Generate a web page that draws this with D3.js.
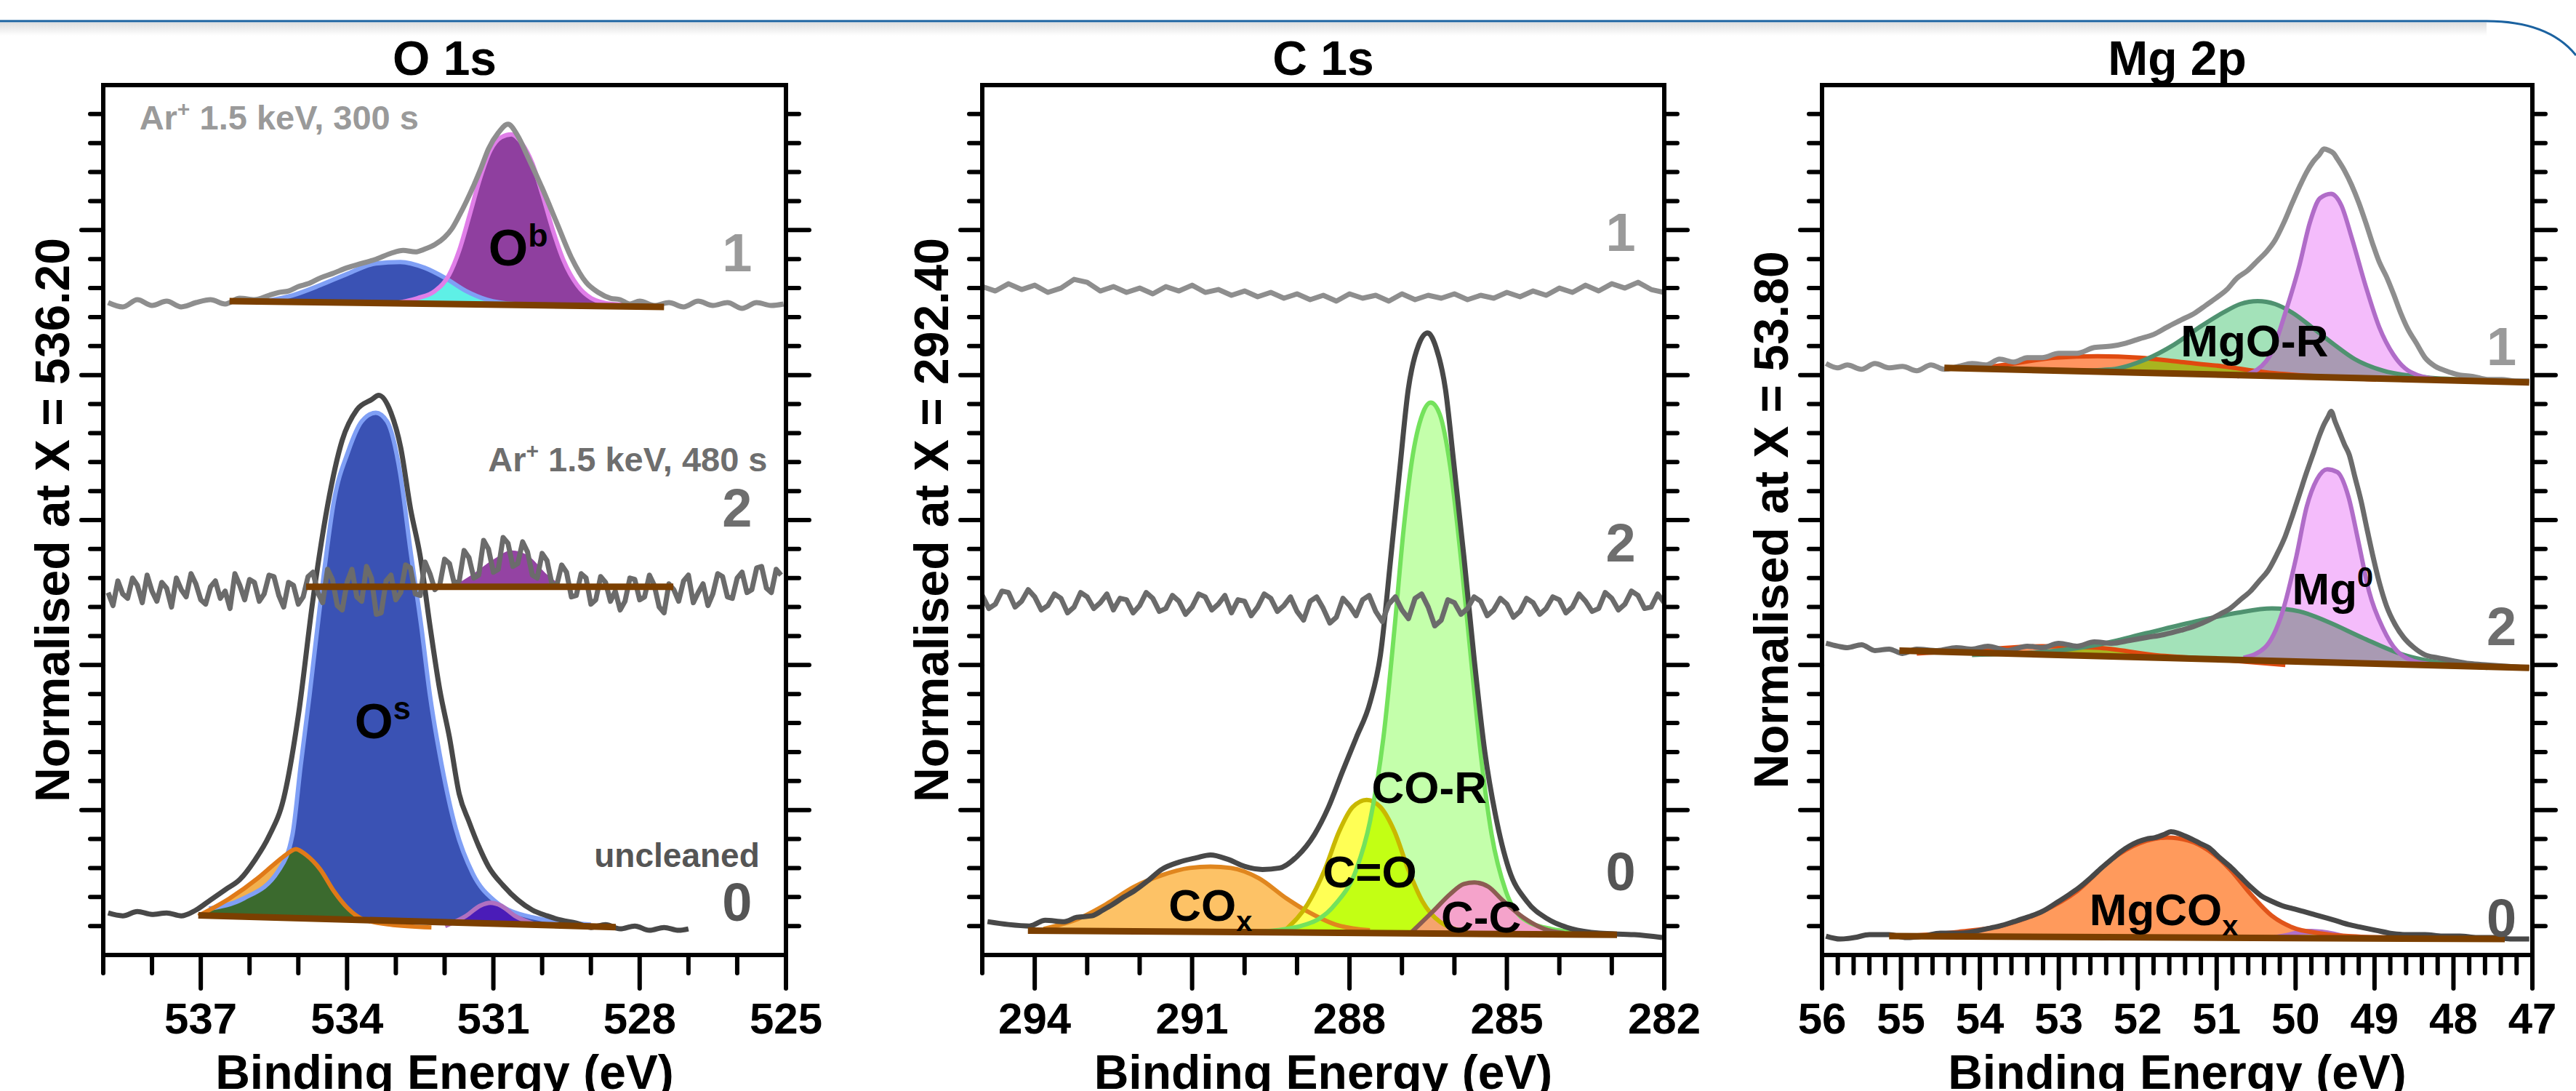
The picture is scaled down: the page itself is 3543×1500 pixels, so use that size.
<!DOCTYPE html>
<html>
<head>
<meta charset="utf-8">
<script src="https://cdn.jsdelivr.net/npm/d3@7"></script>
<style>
  body { margin: 0; background: #fff; }
  text { font-family: "Liberation Sans", Arial, sans-serif; font-weight: bold; }
</style>
</head>
<body>
<svg id="chart" width="3543" height="1500"></svg>
<script>
// ---------- O 1s data (binding energy eV, normalised intensity) ----------
var o1sTicks = [537, 534, 531, 528, 525];
var o1sSpec1 = [[538.9,4.50],[538.6,4.47],[538.3,4.52],[538.0,4.48],[537.7,4.51],[537.4,4.47],[537.1,4.50],[536.8,4.52],[536.5,4.49],[536.2,4.53],[535.9,4.52],[535.6,4.55],[535.4,4.57],[535.2,4.58],[535.0,4.61],[534.8,4.63],[534.55,4.67],[534.3,4.70],[534.0,4.74],[533.7,4.77],[533.4,4.80],[533.1,4.84],[532.85,4.86],[532.6,4.85],[532.4,4.87],[532.2,4.90],[532.0,4.95],[531.85,5.01],[531.7,5.10],[531.55,5.20],[531.4,5.31],[531.25,5.43],[531.1,5.56],[530.9,5.67],[530.7,5.73],[530.5,5.65],[530.3,5.51],[530.0,5.29],[529.7,5.05],[529.4,4.81],[529.1,4.64],[528.85,4.57],[528.6,4.53],[528.4,4.52],[528.2,4.49],[528.0,4.51],[527.7,4.48],[527.4,4.50],[527.1,4.47],[526.8,4.51],[526.5,4.48],[526.2,4.50],[525.9,4.46],[525.6,4.50],[525.3,4.48],[525.05,4.49]];
var o1sBase1 = [[536.41,4.51],[527.5,4.47]];
var o1sBlue1 = [[535.69,4.51],[535.12,4.55],[534.55,4.62],[533.98,4.70],[533.41,4.77],[532.91,4.78],[532.41,4.74],[531.99,4.67],[531.56,4.58],[531.13,4.52],[530.56,4.49],[529.70,4.48]];
var o1sOb = [[533.13,4.49],[532.56,4.53],[532.20,4.58],[531.91,4.69],[531.70,4.86],[531.49,5.10],[531.27,5.36],[531.06,5.55],[530.84,5.64],[530.63,5.66],[530.42,5.60],[530.20,5.46],[529.99,5.24],[529.78,5.00],[529.56,4.79],[529.28,4.62],[528.99,4.53],[528.56,4.49],[527.99,4.48]];

var o1sSpec2 = [[538.9,2.50],[538.8,2.41],[538.7,2.58],[538.6,2.49],[538.5,2.46],[538.4,2.60],[538.3,2.55],[538.2,2.43],[538.1,2.62],[538.0,2.51],[537.9,2.44],[537.8,2.57],[537.7,2.53],[537.6,2.40],[537.5,2.60],[537.4,2.52],[537.3,2.47],[537.2,2.63],[537.1,2.56],[537.0,2.45],[536.9,2.42],[536.8,2.54],[536.7,2.58],[536.6,2.46],[536.5,2.51],[536.4,2.39],[536.3,2.63],[536.2,2.55],[536.1,2.45],[536.0,2.59],[535.9,2.57],[535.8,2.44],[535.7,2.49],[535.6,2.62],[535.5,2.61],[535.4,2.48],[535.3,2.40],[535.2,2.57],[535.1,2.55],[535.0,2.42],[534.9,2.47],[534.8,2.61],[534.7,2.64],[534.6,2.50],[534.5,2.43],[534.4,2.66],[534.3,2.59],[534.2,2.41],[534.1,2.38],[534.0,2.57],[533.9,2.66],[533.8,2.47],[533.7,2.44],[533.6,2.68],[533.5,2.60],[533.4,2.35],[533.3,2.36],[533.2,2.58],[533.1,2.62],[533.0,2.45],[532.9,2.50],[532.8,2.69],[532.7,2.67],[532.6,2.49],[532.5,2.48],[532.4,2.71],[532.3,2.63],[532.2,2.52],[532.1,2.55],[532.0,2.73],[531.9,2.70],[531.8,2.56],[531.7,2.58],[531.6,2.79],[531.5,2.74],[531.4,2.60],[531.3,2.62],[531.2,2.86],[531.1,2.80],[531.0,2.64],[530.9,2.66],[530.8,2.88],[530.7,2.84],[530.6,2.68],[530.5,2.70],[530.4,2.85],[530.3,2.78],[530.2,2.62],[530.1,2.60],[530.0,2.77],[529.9,2.72],[529.8,2.56],[529.7,2.55],[529.6,2.69],[529.5,2.64],[529.4,2.47],[529.3,2.48],[529.2,2.63],[529.1,2.60],[529.0,2.42],[528.9,2.45],[528.8,2.61],[528.7,2.57],[528.6,2.44],[528.5,2.51],[528.4,2.38],[528.3,2.44],[528.2,2.60],[528.1,2.59],[528.0,2.45],[527.9,2.47],[527.8,2.62],[527.7,2.55],[527.6,2.40],[527.5,2.36],[527.4,2.56],[527.3,2.52],[527.2,2.44],[527.1,2.58],[527.0,2.62],[526.9,2.43],[526.8,2.50],[526.7,2.56],[526.6,2.41],[526.5,2.49],[526.4,2.63],[526.3,2.61],[526.2,2.47],[526.1,2.46],[526.0,2.60],[525.9,2.64],[525.8,2.50],[525.7,2.52],[525.6,2.67],[525.5,2.68],[525.4,2.53],[525.3,2.50],[525.2,2.66],[525.1,2.62]];
var o1sBase2 = [[534.84,2.54],[527.31,2.54]];
var o1sPur2 = [[531.84,2.54],[531.41,2.63],[530.99,2.73],[530.63,2.79],[530.27,2.75],[529.92,2.63],[529.56,2.54]];

var o1sSpec0 = [[538.9,0.29],[538.6,0.27],[538.3,0.30],[538.0,0.28],[537.7,0.29],[537.4,0.27],[537.1,0.31],[536.8,0.38],[536.5,0.45],[536.2,0.52],[535.9,0.65],[535.6,0.82],[535.3,1.08],[535.0,1.65],[534.7,2.45],[534.4,3.10],[534.1,3.55],[533.8,3.76],[533.5,3.83],[533.35,3.86],[533.1,3.74],[532.9,3.50],[532.7,3.08],[532.5,2.75],[532.3,2.27],[532.1,1.83],[531.9,1.50],[531.7,1.11],[531.5,0.92],[531.3,0.75],[531.1,0.61],[530.8,0.48],[530.5,0.38],[530.2,0.31],[529.9,0.27],[529.6,0.24],[529.3,0.22],[529.0,0.19],[528.7,0.21],[528.4,0.18],[528.1,0.20],[527.8,0.17],[527.5,0.19],[527.2,0.17],[527.0,0.18]];
var o1sBase0 = [[537.05,0.274],[528.49,0.192]];
var o1sOs = [[536.83,0.32],[536.12,0.39],[535.41,0.58],[535.12,0.83],[534.95,1.31],[534.77,1.79],[534.52,2.51],[534.27,3.13],[533.98,3.47],[533.70,3.68],[533.41,3.74],[533.18,3.68],[532.91,3.32],[532.70,2.79],[532.48,2.27],[532.30,1.79],[532.06,1.31],[531.77,0.87],[531.42,0.56],[530.96,0.37],[530.20,0.26],[529.00,0.21]];
var o1sGreen0 = [[537.05,0.27],[536.41,0.39],[535.83,0.53],[535.48,0.63],[535.26,0.69],[535.05,0.73],[534.84,0.69],[534.55,0.59],[534.27,0.44],[533.98,0.32],[533.70,0.25],[533.13,0.21],[532.27,0.19]];
var o1sPur0 = [[531.99,0.20],[531.56,0.27],[531.27,0.34],[531.06,0.36],[530.84,0.34],[530.56,0.27],[530.13,0.21]];

// ---------- C 1s data ----------
var c1sTicks = [294, 291, 288, 285, 282];
var c1sSpec1 = [[295.0,4.61],[294.75,4.58],[294.5,4.63],[294.25,4.59],[294.0,4.62],[293.75,4.57],[293.5,4.60],[293.25,4.66],[293.0,4.64],[292.75,4.58],[292.5,4.61],[292.25,4.57],[292.0,4.60],[291.75,4.56],[291.5,4.61],[291.25,4.58],[291.0,4.62],[290.75,4.57],[290.5,4.59],[290.25,4.55],[290.0,4.58],[289.75,4.54],[289.5,4.57],[289.25,4.53],[289.0,4.56],[288.75,4.52],[288.5,4.55],[288.25,4.51],[288.0,4.56],[287.75,4.53],[287.5,4.55],[287.25,4.51],[287.0,4.56],[286.75,4.52],[286.5,4.55],[286.25,4.53],[286.0,4.56],[285.75,4.52],[285.5,4.55],[285.25,4.53],[285.0,4.57],[284.75,4.54],[284.5,4.58],[284.25,4.55],[284.0,4.60],[283.75,4.57],[283.5,4.62],[283.25,4.58],[283.0,4.63],[282.75,4.60],[282.5,4.64],[282.25,4.59],[282.0,4.57]];
var c1sSpec2 = [[295.0,2.48],[294.875,2.39],[294.75,2.42],[294.625,2.51],[294.5,2.50],[294.375,2.40],[294.25,2.44],[294.125,2.52],[294.0,2.47],[293.875,2.38],[293.75,2.41],[293.625,2.49],[293.5,2.46],[293.375,2.36],[293.25,2.40],[293.125,2.50],[293.0,2.47],[292.875,2.39],[292.75,2.43],[292.625,2.49],[292.5,2.38],[292.375,2.46],[292.25,2.45],[292.125,2.36],[292.0,2.41],[291.875,2.50],[291.75,2.46],[291.625,2.37],[291.5,2.39],[291.375,2.48],[291.25,2.44],[291.125,2.35],[291.0,2.40],[290.875,2.49],[290.75,2.47],[290.625,2.38],[290.5,2.42],[290.375,2.48],[290.25,2.36],[290.125,2.45],[290.0,2.44],[289.875,2.34],[289.75,2.40],[289.625,2.49],[289.5,2.46],[289.375,2.37],[289.25,2.41],[289.125,2.47],[289.0,2.37],[288.875,2.31],[288.75,2.44],[288.625,2.47],[288.5,2.39],[288.375,2.29],[288.25,2.33],[288.125,2.46],[288.0,2.41],[287.875,2.34],[287.75,2.45],[287.625,2.48],[287.5,2.37],[287.375,2.30],[287.25,2.42],[287.125,2.47],[287.0,2.38],[286.875,2.32],[286.75,2.46],[286.625,2.49],[286.5,2.40],[286.375,2.27],[286.25,2.31],[286.125,2.45],[286.0,2.43],[285.875,2.35],[285.75,2.39],[285.625,2.47],[285.5,2.44],[285.375,2.34],[285.25,2.38],[285.125,2.46],[285.0,2.42],[284.875,2.33],[284.75,2.37],[284.625,2.46],[284.5,2.43],[284.375,2.35],[284.25,2.39],[284.125,2.47],[284.0,2.45],[283.875,2.36],[283.75,2.40],[283.625,2.49],[283.5,2.44],[283.375,2.37],[283.25,2.39],[283.125,2.50],[283.0,2.46],[282.875,2.38],[282.75,2.42],[282.625,2.51],[282.5,2.48],[282.375,2.39],[282.25,2.40],[282.125,2.49],[282.0,2.43]];
var c1sSpec0 = [[294.9,0.23],[294.5,0.21],[294.1,0.20],[293.8,0.24],[293.44,0.23],[293.2,0.26],[292.91,0.27],[292.7,0.31],[292.51,0.35],[292.3,0.40],[292.11,0.44],[291.85,0.51],[291.58,0.59],[291.25,0.64],[290.92,0.67],[290.65,0.69],[290.32,0.66],[289.99,0.61],[289.66,0.59],[289.33,0.60],[289.0,0.68],[288.67,0.83],[288.4,1.02],[288.14,1.26],[287.87,1.50],[287.61,1.74],[287.41,2.07],[287.21,2.75],[287.05,3.32],[286.88,3.90],[286.68,4.21],[286.51,4.29],[286.35,4.19],[286.17,3.90],[286.02,3.42],[285.82,2.75],[285.62,2.03],[285.42,1.40],[285.22,0.97],[284.96,0.59],[284.62,0.37],[284.23,0.25],[283.76,0.18],[283.23,0.15],[282.57,0.14],[282.04,0.12]];
var c1sBase0 = [[294.13,0.168],[282.9,0.139]];
var c1sCOx = [[293.83,0.18],[293.17,0.25],[292.64,0.35],[292.11,0.47],[291.58,0.55],[291.05,0.60],[290.65,0.61],[290.26,0.60],[289.73,0.53],[289.20,0.39],[288.80,0.30],[288.27,0.21],[287.61,0.17]];
var c1sCdO = [[289.2,0.18],[288.8,0.35],[288.47,0.59],[288.2,0.85],[287.94,1.02],[287.67,1.07],[287.41,1.02],[287.14,0.85],[286.88,0.59],[286.61,0.37],[286.28,0.23],[285.75,0.16]];
var c1sCOR = [[289.73,0.16],[288.93,0.20],[288.27,0.35],[287.87,0.59],[287.61,0.92],[287.34,1.54],[287.14,2.26],[286.97,2.93],[286.81,3.41],[286.61,3.73],[286.45,3.81],[286.28,3.73],[286.08,3.37],[285.88,2.75],[285.68,2.03],[285.49,1.36],[285.29,0.83],[285.02,0.44],[284.69,0.25],[284.16,0.18],[283.36,0.15]];
var c1sCC = [[286.81,0.16],[286.41,0.30],[286.08,0.42],[285.82,0.49],[285.62,0.50],[285.35,0.47],[285.09,0.38],[284.69,0.26],[284.29,0.18],[283.9,0.15]];

// ---------- Mg 2p data ----------
var mgTicks = [56, 55, 54, 53, 52, 51, 50, 49, 48, 47];
var mgSpec1 = [[55.95,4.08],[55.8,4.05],[55.68,4.07],[55.5,4.04],[55.33,4.08],[55.15,4.05],[54.98,4.06],[54.8,4.03],[54.62,4.07],[54.45,4.04],[54.27,4.06],[54.1,4.08],[53.92,4.07],[53.75,4.11],[53.57,4.09],[53.4,4.12],[53.21,4.12],[53.0,4.15],[52.77,4.15],[52.55,4.19],[52.33,4.20],[52.15,4.22],[51.98,4.25],[51.8,4.28],[51.63,4.33],[51.45,4.38],[51.27,4.43],[51.14,4.48],[51.01,4.53],[50.87,4.59],[50.74,4.67],[50.61,4.72],[50.48,4.79],[50.37,4.85],[50.26,4.93],[50.15,5.05],[50.04,5.19],[49.95,5.30],[49.86,5.40],[49.78,5.47],[49.70,5.52],[49.64,5.56],[49.58,5.55],[49.52,5.53],[49.47,5.49],[49.38,5.41],[49.29,5.31],[49.20,5.19],[49.11,5.05],[49.02,4.90],[48.94,4.78],[48.85,4.68],[48.76,4.56],[48.67,4.43],[48.58,4.32],[48.47,4.22],[48.36,4.12],[48.23,4.06],[48.10,4.03],[47.92,4.00],[47.75,3.99],[47.57,3.97],[47.39,3.97],[47.22,3.96],[47.04,3.96]];
var mgBase1 = [[54.45,4.05],[47.04,3.95]];
var mgCO1 = [[54.10,4.04],[53.57,4.08],[53.04,4.12],[52.51,4.13],[51.98,4.12],[51.45,4.09],[50.92,4.06],[50.39,4.02],[49.69,3.99],[48.98,3.97]];
var mgOR1 = [[52.77,4.03],[52.33,4.04],[51.89,4.11],[51.54,4.21],[51.19,4.34],[50.92,4.43],[50.70,4.49],[50.48,4.51],[50.26,4.49],[50.04,4.43],[49.77,4.32],[49.51,4.21],[49.25,4.11],[48.89,4.03],[48.45,3.99],[47.92,3.97]];
var mgMg1 = [[50.74,3.99],[50.48,4.04],[50.30,4.16],[50.13,4.43],[49.95,4.76],[49.82,5.05],[49.69,5.22],[49.55,5.25],[49.42,5.17],[49.29,4.95],[49.11,4.61],[48.94,4.33],[48.76,4.14],[48.54,4.02],[48.19,3.97],[47.75,3.96]];

var mgSpec2 = [[55.95,2.15],[55.8,2.13],[55.68,2.12],[55.5,2.14],[55.33,2.10],[55.15,2.11],[54.98,2.08],[54.8,2.11],[54.54,2.10],[54.3,2.12],[54.10,2.11],[53.9,2.13],[53.65,2.10],[53.4,2.13],[53.21,2.12],[53.0,2.15],[52.77,2.13],[52.55,2.16],[52.33,2.15],[52.1,2.17],[51.89,2.19],[51.67,2.21],[51.45,2.24],[51.27,2.27],[51.10,2.31],[50.96,2.35],[50.83,2.39],[50.70,2.45],[50.57,2.51],[50.46,2.58],[50.35,2.65],[50.24,2.76],[50.13,2.89],[50.04,3.03],[49.95,3.18],[49.86,3.33],[49.77,3.47],[49.70,3.58],[49.64,3.66],[49.59,3.71],[49.55,3.75],[49.50,3.68],[49.44,3.60],[49.38,3.52],[49.32,3.45],[49.25,3.30],[49.17,3.13],[49.10,2.95],[49.02,2.75],[48.94,2.57],[48.85,2.41],[48.74,2.28],[48.63,2.19],[48.50,2.12],[48.36,2.07],[48.20,2.05],[48.01,2.03],[47.80,2.01],[47.57,2.00],[47.30,1.99],[47.04,1.98]];
var mgBase2 = [[55.02,2.10],[47.04,1.98]];
var mgCO2 = [[54.80,2.08],[53.92,2.11],[53.21,2.13],[52.51,2.12],[51.80,2.07],[51.01,2.04],[50.13,2.00]];
var mgOR2 = [[54.10,2.07],[53.21,2.09],[52.51,2.14],[51.89,2.22],[51.27,2.30],[50.74,2.36],[50.30,2.39],[49.95,2.37],[49.60,2.30],[49.16,2.19],[48.63,2.07],[48.10,2.01],[47.57,1.98]];
var mgMg2 = [[50.66,2.05],[50.39,2.12],[50.17,2.36],[49.99,2.75],[49.86,3.09],[49.73,3.28],[49.60,3.35],[49.47,3.33],[49.33,3.16],[49.20,2.84],[49.07,2.51],[48.89,2.25],[48.72,2.10],[48.45,2.02],[47.92,1.99]];

var mgSpec0 = [[55.95,0.13],[55.77,0.11],[55.59,0.12],[55.4,0.14],[55.15,0.14],[54.93,0.12],[54.71,0.13],[54.5,0.15],[54.27,0.15],[54.1,0.16],[53.92,0.18],[53.75,0.20],[53.57,0.23],[53.4,0.26],[53.21,0.30],[53.03,0.36],[52.86,0.42],[52.73,0.47],[52.60,0.53],[52.46,0.60],[52.33,0.66],[52.22,0.71],[52.11,0.75],[52.0,0.78],[51.89,0.80],[51.78,0.81],[51.67,0.83],[51.58,0.85],[51.49,0.84],[51.40,0.82],[51.32,0.80],[51.21,0.77],[51.10,0.74],[50.96,0.67],[50.83,0.61],[50.70,0.54],[50.57,0.47],[50.44,0.41],[50.30,0.37],[50.17,0.34],[50.04,0.32],[49.90,0.30],[49.77,0.28],[49.64,0.26],[49.51,0.24],[49.33,0.21],[49.16,0.19],[48.98,0.17],[48.80,0.15],[48.58,0.14],[48.36,0.14],[48.14,0.13],[47.92,0.13],[47.70,0.12],[47.48,0.12],[47.26,0.11],[47.04,0.11]];
var mgBase0 = [[55.15,0.13],[47.35,0.11]];
var mgCOx0 = [[54.98,0.13],[54.27,0.16],[53.74,0.20],[53.21,0.30],[52.77,0.44],[52.33,0.66],[51.98,0.77],[51.63,0.81],[51.36,0.79],[51.10,0.72],[50.83,0.59],[50.57,0.42],[50.30,0.27],[50.04,0.19],[49.69,0.15],[49.33,0.13],[48.80,0.12]];
var mgPur0 = [[50.48,0.12],[50.13,0.15],[49.86,0.18],[49.60,0.17],[49.25,0.12]];
var mgYel0 = [[50.13,0.12],[49.86,0.14],[49.60,0.14],[49.33,0.12]];

// ---------- layout ----------
var W = 3543, H = 1500;
var plotTop = 117, plotBottom = 1313;
var svg = d3.select("#chart");
var defs = svg.append("defs");

// header rule with soft shadow
var grad = defs.append("linearGradient").attr("id", "shade")
  .attr("x1", 0).attr("y1", 0).attr("x2", 0).attr("y2", 1);
grad.append("stop").attr("offset", "0%").attr("stop-color", "#dedede");
grad.append("stop").attr("offset", "100%").attr("stop-color", "#ffffff");
svg.append("rect").attr("x", 0).attr("y", 31).attr("width", 3420).attr("height", 18).attr("fill", "url(#shade)");
svg.append("path").attr("d", "M0,29 H3420 Q3505,29 3543,76")
  .attr("fill", "none").attr("stroke", "#1b62a0").attr("stroke-width", 3);

// traces listed top (1) to bottom (0); drawn bottom first so upper curves stay on top
var panels = [
  {
    title: "O 1s", yTitle: "Normalised at X = 536.20",
    left: 142, right: 1081, domain: [539, 525],
    majors: o1sTicks, minors: d3.range(539, 524.5, -1),
    traces: [
      { line: o1sSpec1, color: "#8e8e8e", base: o1sBase1, curve: d3.curveMonotoneX,
        comps: [
          { id: "a", data: o1sBlue1, fill: "#3a52b4", stroke: "#7f9ff5" },
          { id: "b", data: o1sOb, fill: "#8f3f9f", stroke: "#e07ee8" }],
        overlaps: [{ a: "a", b: "b", fill: "#5ef0e6" }] },
      { line: o1sSpec2, color: "#6b6b6b", base: o1sBase2, curve: d3.curveLinear,
        comps: [{ id: "a", data: o1sPur2, fill: "#9443a3", stroke: null }],
        overlaps: [] },
      { line: o1sSpec0, color: "#484848", base: o1sBase0, curve: d3.curveMonotoneX,
        comps: [
          { id: "s", data: o1sOs, fill: "#3a52b4", stroke: "#7f9ff5" },
          { id: "g", data: o1sGreen0, fill: "#f2b04e", stroke: "#e07a18" },
          { id: "v", data: o1sPur0, fill: "#c89ad8", stroke: "#b070c0" }],
        overlaps: [{ a: "g", b: "s", fill: "#3b6a2e" }, { a: "v", b: "s", fill: "#4a1cb8" }] }
    ],
    labels: [
      { x: 538.26, v: 5.78, parts: [["Ar"], ["+", "sup"], [" 1.5 keV, 300 s"]], size: 47, color: "#9a9a9a", anchor: "start" },
      { x: 525.38, v: 3.42, parts: [["Ar"], ["+", "sup"], [" 1.5 keV, 480 s"]], size: 47, color: "#6e6e6e", anchor: "end" },
      { x: 525.54, v: 0.69, parts: [["uncleaned"]], size: 46, color: "#555555", anchor: "end" },
      { x: 526.0, v: 4.85, parts: [["1"]], size: 74, color: "#9a9a9a", anchor: "middle" },
      { x: 526.0, v: 3.09, parts: [["2"]], size: 74, color: "#6e6e6e", anchor: "middle" },
      { x: 526.0, v: 0.37, parts: [["0"]], size: 74, color: "#555555", anchor: "middle" },
      { x: 530.49, v: 4.88, parts: [["O"], ["b", "sup"]], size: 70, color: "#000", anchor: "middle" },
      { x: 533.27, v: 1.62, parts: [["O"], ["s", "sup"]], size: 68, color: "#000", anchor: "middle" }
    ]
  },
  {
    title: "C 1s", yTitle: "Normalised at X = 292.40",
    left: 1351, right: 2289, domain: [295, 282],
    majors: c1sTicks, minors: d3.range(295, 281.5, -1),
    traces: [
      { line: c1sSpec1, color: "#8e8e8e", base: null, curve: d3.curveLinear, comps: [], overlaps: [] },
      { line: c1sSpec2, color: "#6b6b6b", base: null, curve: d3.curveLinear, comps: [], overlaps: [] },
      { line: c1sSpec0, color: "#484848", base: c1sBase0, curve: d3.curveMonotoneX,
        comps: [
          { id: "x", data: c1sCOx, fill: "#fdc266", stroke: "#e0861e" },
          { id: "y", data: c1sCdO, fill: "#ffff55", stroke: "#c9b800" },
          { id: "g", data: c1sCOR, fill: "#c4ffab", stroke: "#74e25c" },
          { id: "c", data: c1sCC, fill: "#f5a3cb", stroke: "#8c5c52" }],
        overlaps: [
          { a: "x", b: "g", fill: "#ffc2cc" },
          { a: "y", b: "g", fill: "#c3ff14" },
          { a: "c", b: "y", fill: "#f5a46e" }] }
    ],
    labels: [
      { x: 282.83, v: 4.99, parts: [["1"]], size: 74, color: "#9a9a9a", anchor: "middle" },
      { x: 282.83, v: 2.85, parts: [["2"]], size: 74, color: "#6e6e6e", anchor: "middle" },
      { x: 282.83, v: 0.58, parts: [["0"]], size: 74, color: "#555555", anchor: "middle" },
      { x: 286.48, v: 1.16, parts: [["CO-R"]], size: 62, color: "#000", anchor: "middle" },
      { x: 287.61, v: 0.58, parts: [["C=O"]], size: 62, color: "#000", anchor: "middle" },
      { x: 290.65, v: 0.35, parts: [["CO"], ["x", "sub"]], size: 62, color: "#000", anchor: "middle" },
      { x: 285.49, v: 0.27, parts: [["C-C"]], size: 62, color: "#000", anchor: "middle" }
    ]
  },
  {
    title: "Mg 2p", yTitle: "Normalised at X = 53.80",
    left: 2506, right: 3483, domain: [56, 47],
    majors: mgTicks, minors: d3.range(0, 46).map(function(i) { return 56 - i * 0.2; }),
    traces: [
      { line: mgSpec1, color: "#8e8e8e", base: mgBase1, curve: d3.curveMonotoneX,
        comps: [
          { id: "o", data: mgCO1, fill: "#ff9460", stroke: "#e04a10" },
          { id: "g", data: mgOR1, fill: "#a3e2b9", stroke: "#4f9270" },
          { id: "p", data: mgMg1, fill: "#f4bcfb", stroke: "#b06cc8" }],
        overlaps: [
          { a: "g", b: "p", fill: "#a99ab3" },
          { a: "o", b: "g", fill: "#a9b41f" },
          { a: "o", b: "p", fill: "#b4f01e" }] },
      { line: mgSpec2, color: "#6b6b6b", base: mgBase2, curve: d3.curveMonotoneX,
        comps: [
          { id: "o", data: mgCO2, fill: "#ff9460", stroke: "#e04a10" },
          { id: "g", data: mgOR2, fill: "#a3e2b9", stroke: "#4f9270" },
          { id: "p", data: mgMg2, fill: "#f4bcfb", stroke: "#b06cc8" }],
        overlaps: [
          { a: "g", b: "p", fill: "#a99ab3" },
          { a: "o", b: "g", fill: "#a9b41f" },
          { a: "o", b: "p", fill: "#b4f01e" }] },
      { line: mgSpec0, color: "#484848", base: mgBase0, curve: d3.curveMonotoneX,
        comps: [
          { id: "m", data: mgCOx0, fill: "#ff9a5c", stroke: "#e0541a" },
          { id: "q", data: mgPur0, fill: "#b070c8", stroke: null },
          { id: "w", data: mgYel0, fill: "#f0d060", stroke: null }],
        overlaps: [] }
    ],
    labels: [
      { x: 47.39, v: 4.20, parts: [["1"]], size: 74, color: "#9a9a9a", anchor: "middle" },
      { x: 47.39, v: 2.27, parts: [["2"]], size: 74, color: "#6e6e6e", anchor: "middle" },
      { x: 47.39, v: 0.26, parts: [["0"]], size: 74, color: "#555555", anchor: "middle" },
      { x: 50.52, v: 4.24, parts: [["MgO-R"]], size: 62, color: "#000", anchor: "middle" },
      { x: 49.53, v: 2.53, parts: [["Mg"], ["0", "sup"]], size: 62, color: "#000", anchor: "middle" },
      { x: 51.67, v: 0.32, parts: [["MgCO"], ["x", "sub"]], size: 62, color: "#000", anchor: "middle" }
    ]
  }
];

var y = d3.scaleLinear().domain([0, 6]).range([plotBottom, plotTop]);
var yMinor = d3.range(1, 30).map(function(i) { return i * 0.2; });

function addLabel(g, px, py, lab) {
  var s = lab.size;
  var t = g.append("text")
    .attr("x", px).attr("y", py + s * 0.36)
    .attr("text-anchor", lab.anchor)
    .attr("font-size", s)
    .attr("fill", lab.color);
  var shift = 0;
  lab.parts.forEach(function(p) {
    var ts = t.append("tspan").text(p[0]);
    var want = 0;
    if (p[1] === "sup") { want = -s * 0.38; ts.attr("font-size", s * 0.64); }
    if (p[1] === "sub") { want = s * 0.24; ts.attr("font-size", s * 0.64); }
    if (want !== shift) { ts.attr("dy", want - shift); shift = want; }
  });
}

panels.forEach(function(p, pi) {
  var x = d3.scaleLinear().domain(p.domain).range([p.left, p.right]);
  var g = svg.append("g");

  defs.append("clipPath").attr("id", "frame" + pi)
    .append("rect").attr("x", p.left).attr("y", plotTop)
    .attr("width", p.right - p.left).attr("height", plotBottom - plotTop);
  var plot = g.append("g").attr("clip-path", "url(#frame" + pi + ")");

  for (var ti = p.traces.length - 1; ti >= 0; ti--) {
    var tr = p.traces[ti];
    if (tr.base) {
      var base = d3.scaleLinear()
        .domain(tr.base.map(function(d) { return d[0]; }))
        .range(tr.base.map(function(d) { return d[1]; }));
      var area = d3.area()
        .x(function(d) { return x(d[0]); })
        .y0(function(d) { return y(Math.min(base(d[0]), d[1])); })
        .y1(function(d) { return y(d[1]); })
        .curve(d3.curveMonotoneX);
      var edge = d3.line()
        .x(function(d) { return x(d[0]); })
        .y(function(d) { return y(d[1]); })
        .curve(d3.curveMonotoneX);
      var byId = {};
      tr.comps.forEach(function(c) {
        byId[c.id] = c;
        plot.append("path").attr("d", area(c.data)).attr("fill", c.fill);
      });
      tr.overlaps.forEach(function(o, oi) {
        var cid = "ov" + pi + "_" + ti + "_" + oi;
        defs.append("clipPath").attr("id", cid)
          .append("path").attr("d", area(byId[o.b].data));
        plot.append("path").attr("d", area(byId[o.a].data))
          .attr("fill", o.fill).attr("clip-path", "url(#" + cid + ")");
      });
      tr.comps.forEach(function(c) {
        if (!c.stroke) return;
        plot.append("path").attr("d", edge(c.data))
          .attr("fill", "none").attr("stroke", c.stroke).attr("stroke-width", 6);
      });
    }
    plot.append("path")
      .attr("d", d3.line().x(function(d) { return x(d[0]); }).y(function(d) { return y(d[1]); }).curve(tr.curve)(tr.line))
      .attr("fill", "none").attr("stroke", tr.color).attr("stroke-width", 7)
      .attr("stroke-linejoin", "round");
    if (tr.base) {
      plot.append("path")
        .attr("d", d3.line().x(function(d) { return x(d[0]); }).y(function(d) { return y(d[1]); })(tr.base))
        .attr("fill", "none").attr("stroke", "#7b3f00").attr("stroke-width", 9);
    }
  }

  // frame
  g.append("rect").attr("x", p.left).attr("y", plotTop)
    .attr("width", p.right - p.left).attr("height", plotBottom - plotTop)
    .attr("fill", "none").attr("stroke", "#000").attr("stroke-width", 6);

  // y ticks (no labels), both sides, outward
  yMinor.forEach(function(v, i) {
    var major = (i + 1) % 5 === 0;
    var yy = y(v);
    g.append("line").attr("x1", p.left).attr("x2", p.left - (major ? 30 : 18))
      .attr("y1", yy).attr("y2", yy)
      .attr("stroke", "#000").attr("stroke-width", 6).attr("stroke-linecap", "round");
    g.append("line").attr("x1", p.right).attr("x2", p.right + (major ? 32 : 18))
      .attr("y1", yy).attr("y2", yy)
      .attr("stroke", "#000").attr("stroke-width", 6).attr("stroke-linecap", "round");
  });

  // x ticks
  p.minors.forEach(function(v) {
    if (p.majors.some(function(m) { return Math.abs(m - v) < 1e-6; })) return;
    g.append("line").attr("x1", x(v)).attr("x2", x(v))
      .attr("y1", plotBottom).attr("y2", plotBottom + 25)
      .attr("stroke", "#000").attr("stroke-width", 6).attr("stroke-linecap", "round");
  });
  p.majors.forEach(function(v) {
    g.append("line").attr("x1", x(v)).attr("x2", x(v))
      .attr("y1", plotBottom).attr("y2", plotBottom + 46)
      .attr("stroke", "#000").attr("stroke-width", 6).attr("stroke-linecap", "round");
    g.append("text").attr("x", x(v)).attr("y", 1421)
      .attr("text-anchor", "middle").attr("font-size", 60).text(v);
  });

  var cx = (p.left + p.right) / 2;
  g.append("text").attr("x", cx).attr("y", 103).attr("text-anchor", "middle")
    .attr("font-size", 66).text(p.title);
  g.append("text").attr("x", cx).attr("y", 1497).attr("text-anchor", "middle")
    .attr("font-size", 66).text("Binding Energy (eV)");
  g.append("text")
    .attr("transform", "translate(" + (p.left - 47) + "," + ((plotTop + plotBottom) / 2) + ") rotate(-90)")
    .attr("text-anchor", "middle").attr("font-size", 66).text(p.yTitle);

  p.labels.forEach(function(lab) { addLabel(g, x(lab.x), y(lab.v), lab); });
});
</script>
</body>
</html>
